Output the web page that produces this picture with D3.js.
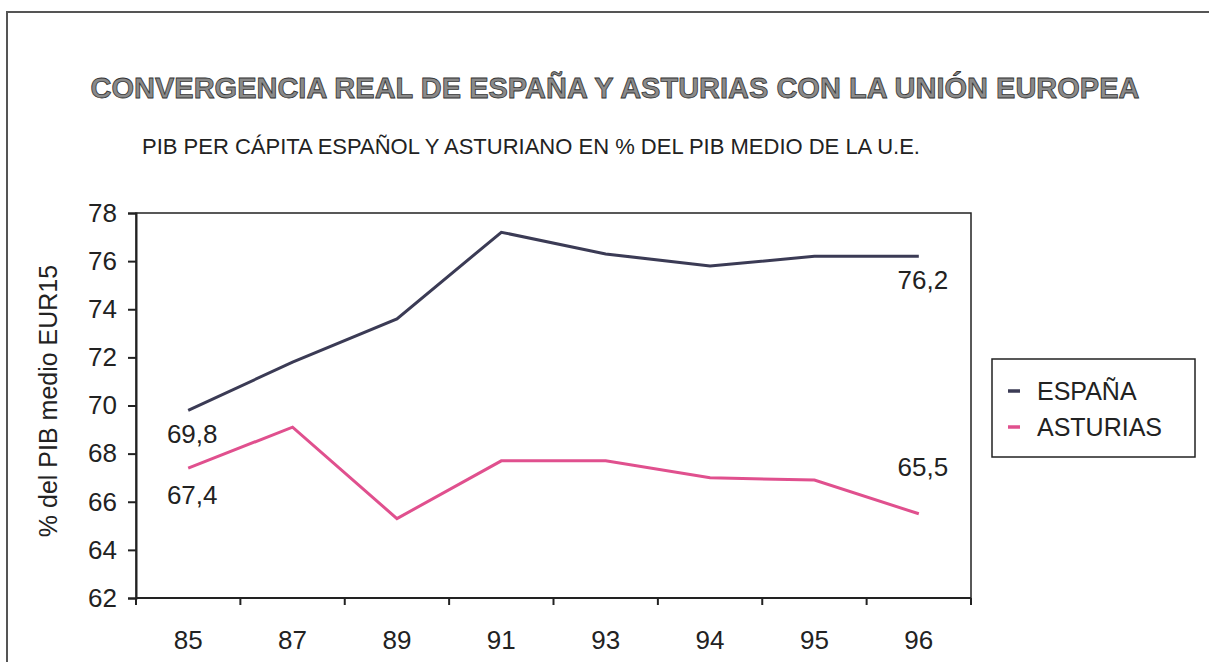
<!DOCTYPE html>
<meta charset="utf-8">
<style>
    body { margin: 0; background: white; }
    text { font-family: "Liberation Sans", Arial, sans-serif; fill: #222; }
    .title { font-weight: bold; fill: #8a8a8a; stroke: #333; stroke-width: 0.8px; }
    .axis text { font-size: 26px; fill: #222; }
    .axis path, .axis line { stroke: #222; stroke-width: 2px; }
</style>
<svg width="1209" height="662"></svg>
<script src="https://d3js.org/d3.v7.min.js"></script>
<script>
    var years = ["85", "87", "89", "91", "93", "94", "95", "96"];
    var espana = [69.8, 71.8, 73.6, 77.2, 76.3, 75.8, 76.2, 76.2];
    var asturias = [67.4, 69.1, 65.3, 67.7, 67.7, 67.0, 66.9, 65.5];
    var yTicks = [62, 64, 66, 68, 70, 72, 74, 76, 78];

    var svg = d3.select("svg"),
        margin = {top: 213, right: 238, bottom: 64, left: 136},
        width = +svg.attr("width") - margin.left - margin.right,
        height = +svg.attr("height") - margin.top - margin.bottom;

    // outer frame of the scanned page
    svg.append("path")
        .attr("d", "M7,662 L7,12 L1209,12")
        .attr("fill", "none")
        .attr("stroke", "#555")
        .attr("stroke-width", 2);

    svg.append("text")
        .attr("class", "title")
        .attr("x", 615).attr("y", 98)
        .attr("text-anchor", "middle")
        .style("font-size", "29px")
        .text("CONVERGENCIA REAL DE ESPAÑA Y ASTURIAS CON LA UNIÓN EUROPEA");

    svg.append("text")
        .attr("x", 531).attr("y", 154)
        .attr("text-anchor", "middle")
        .style("font-size", "22px")
        .text("PIB PER CÁPITA ESPAÑOL Y ASTURIANO EN % DEL PIB MEDIO DE LA U.E.");

    var x = d3.scaleBand().domain(years).range([0, width]),
        y = d3.scaleLinear().domain([62, 78]).range([height, 0]);

    var g = svg.append("g")
        .attr("transform", "translate(" + margin.left + "," + margin.top + ")");

    // plot frame
    g.append("rect")
        .attr("width", width).attr("height", height)
        .attr("fill", "none")
        .attr("stroke", "#222")
        .attr("stroke-width", 1.5);

    var xAxis = g.append("g")
        .attr("class", "axis")
        .attr("transform", "translate(0," + height + ")")
        .call(d3.axisBottom(x).tickSize(0).tickPadding(33));
    xAxis.select(".domain").remove();
    // tick marks sit on the band edges
    xAxis.selectAll(".edge")
        .data(years.concat(["end"]))
        .enter().append("line")
        .attr("x1", function(d, i) { return i * x.bandwidth(); })
        .attr("x2", function(d, i) { return i * x.bandwidth(); })
        .attr("y1", 0).attr("y2", 7);
    xAxis.append("line").attr("x1", 0).attr("x2", width);

    g.append("g")
        .attr("class", "axis")
        .call(d3.axisLeft(y).tickValues(yTicks).tickSize(8).tickPadding(11));

    svg.append("text")
        .attr("transform", "rotate(-90)")
        .attr("x", -401).attr("y", 57)
        .attr("text-anchor", "middle")
        .style("font-size", "25px")
        .text("% del PIB medio EUR15");

    var line = d3.line()
        .x(function(d, i) { return x(years[i]) + x.bandwidth() / 2; })
        .y(function(d) { return y(d); });

    var series = [
        {name: "ESPAÑA", values: espana, color: "#3b3b55"},
        {name: "ASTURIAS", values: asturias, color: "#e0508e"}
    ];

    g.selectAll(".series")
        .data(series)
        .enter().append("path")
        .attr("fill", "none")
        .attr("stroke", function(d) { return d.color; })
        .attr("stroke-width", 3)
        .attr("d", function(d) { return line(d.values); });

    // value labels at first and last points
    var fmt = function(v) { return d3.format(".1f")(v).replace(".", ","); };
    var labels = [
        {v: espana[0], i: 0, dy: 33},
        {v: asturias[0], i: 0, dy: 36},
        {v: espana[7], i: 7, dy: 33},
        {v: asturias[7], i: 7, dy: -38}
    ];
    g.selectAll(".vlabel")
        .data(labels)
        .enter().append("text")
        .attr("x", function(d) { return x(years[d.i]) + x.bandwidth() / 2 + 4; })
        .attr("y", function(d) { return y(d.v) + d.dy; })
        .attr("text-anchor", "middle")
        .style("font-size", "26px")
        .text(function(d) { return fmt(d.v); });

    // legend
    var legend = svg.append("g").attr("transform", "translate(992,359)");
    legend.append("rect")
        .attr("width", 203).attr("height", 98)
        .attr("fill", "white")
        .attr("stroke", "#222")
        .attr("stroke-width", 1.5);
    var item = legend.selectAll(".item")
        .data(series)
        .enter().append("g")
        .attr("transform", function(d, i) { return "translate(0," + (32 + i * 36) + ")"; });
    item.append("line")
        .attr("x1", 16).attr("x2", 28)
        .attr("stroke", function(d) { return d.color; })
        .attr("stroke-width", 3.5);
    item.append("text")
        .attr("x", 45).attr("y", 9)
        .style("font-size", "25px")
        .text(function(d) { return d.name; });
</script>
